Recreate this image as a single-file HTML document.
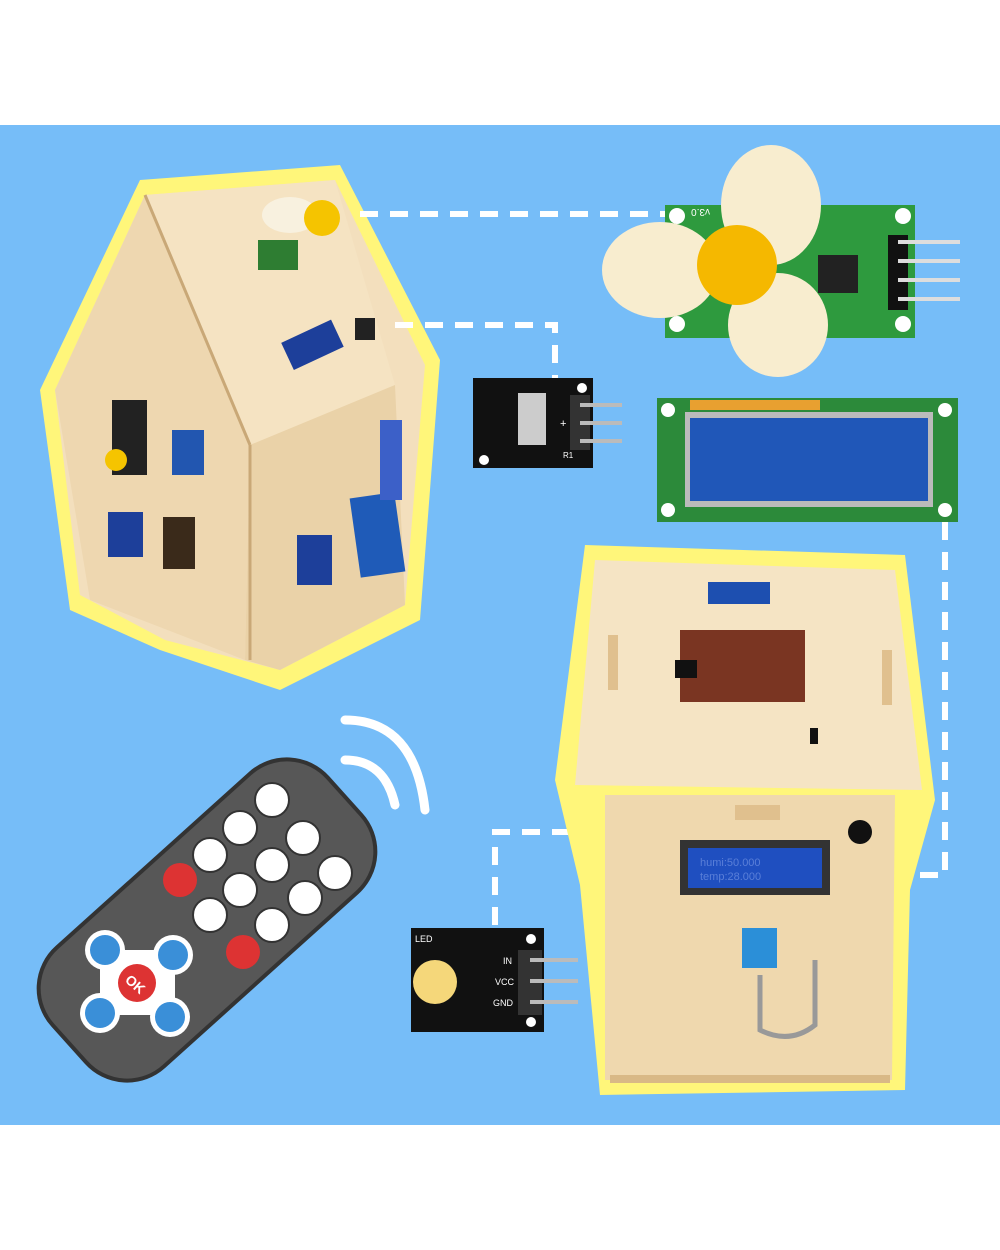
<!DOCTYPE html>
<html><head><meta charset="utf-8"><style>
html,body{margin:0;padding:0;background:#fff;}
svg{display:block}
text{font-family:"Liberation Sans",sans-serif}
</style></head><body>
<svg width="1000" height="1250" viewBox="0 0 1000 1250" xmlns="http://www.w3.org/2000/svg">
<rect x="0" y="125" width="1000" height="1000" fill="#76bdf8"/>

<!-- House 1 -->
<polygon points="140,180 340,165 440,360 420,620 280,690 160,650 70,610 40,390" fill="#fff67a"/>
<polygon points="145,195 335,180 425,365 405,605 280,670 165,640 80,595 55,390" fill="#f3dfbd"/>
<polygon points="145,195 250,445 395,385 335,180" fill="#f5e3c2"/>
<polygon points="55,390 145,195 250,445 245,660 90,600" fill="#eed7b0"/>
<polygon points="250,445 395,385 405,605 280,670 245,660" fill="#ead2a8"/>
<line x1="145" y1="195" x2="250" y2="445" stroke="#c9a877" stroke-width="3"/>
<line x1="250" y1="445" x2="250" y2="660" stroke="#c9a877" stroke-width="3"/>
<rect x="163" y="517" width="32" height="52" fill="#3a2a1a"/>
<rect x="112" y="400" width="35" height="75" fill="#222"/>
<rect x="172" y="430" width="32" height="45" fill="#2256b0"/>
<circle cx="116" cy="460" r="11" fill="#f5c400"/>
<rect x="108" y="512" width="35" height="45" fill="#1d3f9a"/>
<rect x="297" y="535" width="35" height="50" fill="#1d3f9a"/>
<rect x="355" y="495" width="45" height="80" fill="#1f5bb8" transform="rotate(-8 377 535)"/>
<rect x="380" y="420" width="22" height="80" fill="#3c60c8"/>
<rect x="285" y="330" width="55" height="30" fill="#1d3f9a" transform="rotate(-25 312 345)"/>
<rect x="258" y="240" width="40" height="30" fill="#2e7d32"/>
<ellipse cx="290" cy="215" rx="28" ry="18" fill="#f8f1df"/>
<circle cx="322" cy="218" r="18" fill="#f5c400"/>
<rect x="355" y="318" width="20" height="22" fill="#222"/>

<!-- dashed connectors -->
<g stroke="#fff" stroke-width="6" stroke-dasharray="18,12" fill="none">
<polyline points="360,214 670,214"/>
<polyline points="395,325 555,325 555,380"/>
<polyline points="945,522 945,875 830,875"/>
<polyline points="600,832 495,832 495,930"/>
</g>

<!-- fan module -->
<rect x="665" y="205" width="250" height="133" fill="#2e9a3e"/>
<circle cx="677" cy="216" r="8" fill="#fff"/><circle cx="903" cy="216" r="8" fill="#fff"/>
<circle cx="677" cy="324" r="8" fill="#fff"/><circle cx="903" cy="324" r="8" fill="#fff"/>
<rect x="818" y="255" width="40" height="38" fill="#222"/>
<rect x="888" y="235" width="20" height="75" fill="#111"/>
<g stroke="#ddd" stroke-width="4"><line x1="898" y1="242" x2="960" y2="242"/><line x1="898" y1="261" x2="960" y2="261"/><line x1="898" y1="280" x2="960" y2="280"/><line x1="898" y1="299" x2="960" y2="299"/></g>
<ellipse cx="771" cy="205" rx="50" ry="60" fill="#f8edcf"/>
<ellipse cx="660" cy="270" rx="58" ry="48" fill="#f8edcf"/>
<ellipse cx="778" cy="325" rx="50" ry="52" fill="#f8edcf"/>
<circle cx="737" cy="265" r="40" fill="#f5b800"/>
<text x="700" y="215" font-size="10" fill="#fff" transform="rotate(180 705 212)">v3.0</text>

<!-- black sensor -->
<rect x="473" y="378" width="120" height="90" fill="#111"/>
<rect x="518" y="393" width="28" height="52" fill="#ccc"/>
<rect x="570" y="395" width="20" height="55" fill="#333"/>
<g stroke="#bbb" stroke-width="4"><line x1="580" y1="405" x2="622" y2="405"/><line x1="580" y1="423" x2="622" y2="423"/><line x1="580" y1="441" x2="622" y2="441"/></g>
<circle cx="484" cy="460" r="5" fill="#fff"/><circle cx="582" cy="388" r="5" fill="#fff"/>
<text x="560" y="427" font-size="11" fill="#fff">+</text><text x="563" y="458" font-size="8" fill="#fff">R1</text>

<!-- LCD -->
<rect x="657" y="398" width="301" height="124" fill="#2c8a3a"/>
<rect x="685" y="412" width="248" height="95" fill="#bbb"/>
<rect x="690" y="418" width="238" height="83" fill="#2057b8"/>
<g fill="#e8a030"><rect x="690" y="400" width="130" height="10"/></g>
<circle cx="668" cy="410" r="7" fill="#fff"/><circle cx="945" cy="410" r="7" fill="#fff"/>
<circle cx="668" cy="510" r="7" fill="#fff"/><circle cx="945" cy="510" r="7" fill="#fff"/>

<!-- House 2 -->
<polygon points="585,545 905,555 935,800 910,890 905,1090 600,1095 580,885 555,780" fill="#fff67a"/>
<polygon points="595,560 895,570 922,790 575,785" fill="#f5e4c4"/>
<polygon points="605,795 895,795 892,1080 605,1080" fill="#efd8ae"/>
<rect x="610" y="1075" width="280" height="8" fill="#d9b986"/>
<rect x="680" y="630" width="125" height="72" fill="#7a3522"/>
<rect x="675" y="660" width="22" height="18" fill="#111"/>
<rect x="708" y="582" width="62" height="22" fill="#1d4fb0"/>
<rect x="608" y="635" width="10" height="55" fill="#e0c08e"/>
<rect x="882" y="650" width="10" height="55" fill="#e0c08e"/>
<rect x="810" y="728" width="8" height="16" fill="#111"/>
<circle cx="860" cy="832" r="12" fill="#111"/>
<rect x="735" y="805" width="45" height="15" fill="#e0c08e"/>
<rect x="680" y="840" width="150" height="55" fill="#333"/>
<rect x="688" y="848" width="134" height="40" fill="#1f4fc0"/>
<text x="700" y="866" font-size="11" fill="#5a7fd8" font-family="Liberation Mono">humi:50.000</text>
<text x="700" y="880" font-size="11" fill="#5a7fd8" font-family="Liberation Mono">temp:28.000</text>
<rect x="742" y="928" width="35" height="40" fill="#2b8fd8"/>
<path d="M760 975 L760 1030 Q790 1045 815 1025 L815 960" stroke="#999" stroke-width="5" fill="none"/>

<!-- LED module -->
<rect x="411" y="928" width="133" height="104" fill="#111"/>
<circle cx="435" cy="982" r="22" fill="#f5d77a"/>
<rect x="518" y="950" width="24" height="65" fill="#333"/>
<g stroke="#bbb" stroke-width="4"><line x1="530" y1="960" x2="578" y2="960"/><line x1="530" y1="981" x2="578" y2="981"/><line x1="530" y1="1002" x2="578" y2="1002"/></g>
<circle cx="531" cy="939" r="5" fill="#fff"/><circle cx="531" cy="1022" r="5" fill="#fff"/>
<text x="415" y="942" font-size="9" fill="#fff">LED</text>
<text x="503" y="964" font-size="9" fill="#fff">IN</text>
<text x="495" y="985" font-size="9" fill="#fff">VCC</text>
<text x="493" y="1006" font-size="9" fill="#fff">GND</text>

<!-- remote -->
<g transform="translate(207 920) rotate(48)">
<rect x="-80" y="-185" width="160" height="370" rx="55" fill="#575757" stroke="#333" stroke-width="4"/>
</g>
<g fill="#fff" stroke="#333" stroke-width="2">
<circle cx="272" cy="800" r="17"/><circle cx="240" cy="828" r="17"/><circle cx="303" cy="838" r="17"/>
<circle cx="210" cy="855" r="17"/><circle cx="272" cy="865" r="17"/><circle cx="335" cy="873" r="17"/>
<circle cx="240" cy="890" r="17"/><circle cx="305" cy="898" r="17"/><circle cx="210" cy="915" r="17"/><circle cx="272" cy="925" r="17"/>
</g>
<circle cx="180" cy="880" r="17" fill="#d33"/><circle cx="243" cy="952" r="17" fill="#d33"/>
<g fill="#fff"><circle cx="105" cy="950" r="20"/><circle cx="173" cy="955" r="20"/><circle cx="100" cy="1013" r="20"/><circle cx="170" cy="1017" r="20"/><rect x="100" y="950" width="75" height="65"/></g>
<g fill="#3a8fd8"><circle cx="105" cy="950" r="15"/><circle cx="173" cy="955" r="15"/><circle cx="100" cy="1013" r="15"/><circle cx="170" cy="1017" r="15"/></g>
<circle cx="137" cy="983" r="19" fill="#d33"/>
<text x="126" y="990" font-size="14" font-weight="bold" fill="#fff" transform="rotate(40 137 983)">OK</text>
<g fill="none" stroke="#fff" stroke-width="9" stroke-linecap="round">
<path d="M345 760 Q385 760 395 805"/><path d="M345 720 Q415 720 425 810"/>
</g>
</svg>
</body></html>
